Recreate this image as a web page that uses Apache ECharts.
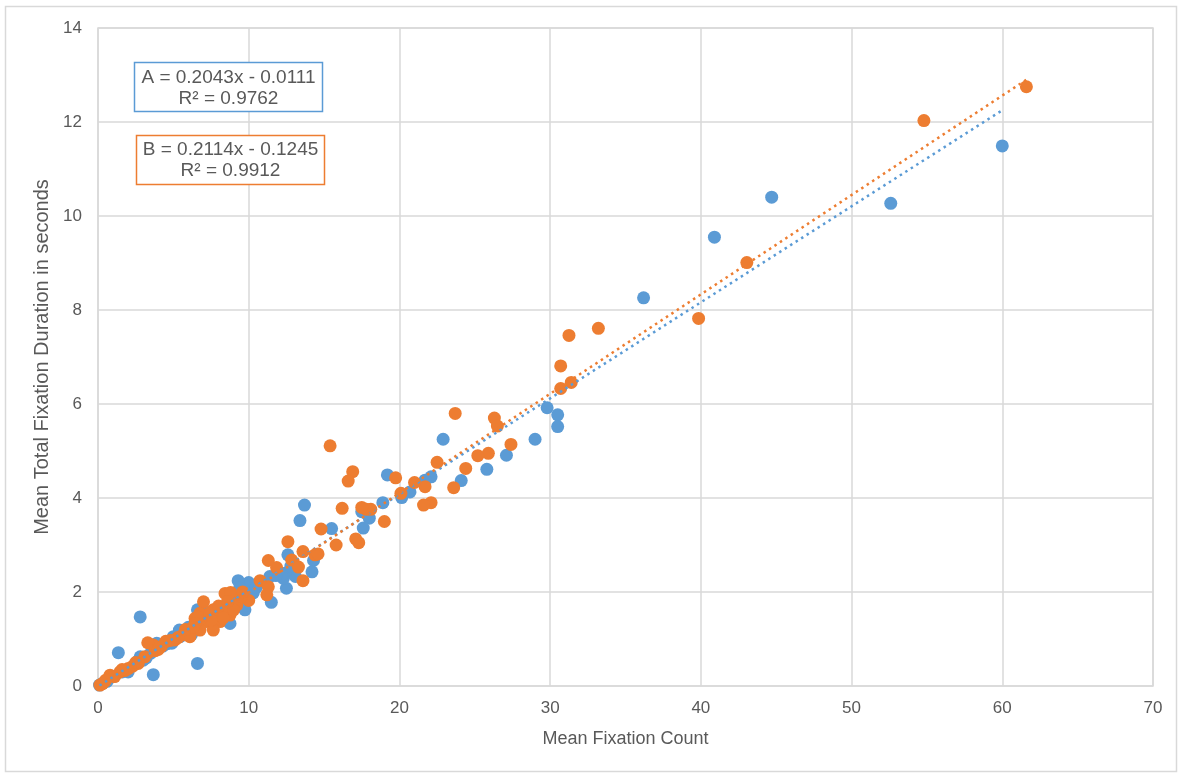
<!DOCTYPE html>
<html>
<head>
<meta charset="utf-8">
<script src="https://cdn.jsdelivr.net/npm/echarts@6/dist/echarts.min.js"></script>
<style>
html,body{margin:0;padding:0;background:#fff;}
#chart{width:1182px;height:775px;}
</style>
</head>
<body>
<div id="chart"></div>
<script>
// ---- Data ----
const seriesNames = ['A', 'B'];
const pointsA = [
  [60.0,11.49],[52.6,10.27],[44.7,10.40],[40.9,9.55],[36.2,8.26],[29.8,5.92],[30.5,5.77],[30.5,5.52],
  [29.0,5.25],[27.1,4.91],[25.8,4.61],[24.1,4.37],[22.9,5.25],[22.1,4.45],[21.7,4.38],[20.7,4.13],
  [20.15,4.01],[19.2,4.49],[18.9,3.90],[18.0,3.57],[17.8,3.67],[17.5,3.71],[17.6,3.36],[15.5,3.35],
  [13.7,3.85],[13.4,3.52],[14.3,2.67],[14.2,2.43],[13.1,2.33],[12.6,2.79],[12.4,2.40],[12.5,2.08],
  [12.3,2.29],[11.5,1.78],[11.4,2.33],[10.0,2.20],[9.3,2.24],[9.4,2.08],[9.64,1.67],[9.75,1.62],
  [8.76,1.33],[7.65,1.30],[6.9,1.62],[6.6,1.62],[5.9,1.19],[5.44,1.05],[5.4,1.19],[6.2,1.09],[5.55,1.12],
  [4.9,0.91],[3.9,0.91],[2.8,1.47],[1.35,0.71],[3.67,0.24],[6.6,0.48],[2.0,0.30],[1.6,0.30],[2.8,0.62],
  [0.33,0.06],[8.2,1.62],[7.2,1.48],[4.3,0.85],[3.5,0.70],[2.6,0.52],[1.0,0.20],[0.6,0.10],[0.1,0.02],
  [10.3,1.98],[9.0,1.85],[8.5,1.72],[7.8,1.55],
  [5.0,1.05],[6.0,1.25],[7.0,1.40],[4.6,0.90],[3.2,0.60],[3.0,0.55],[8.0,1.45],[10.5,2.10],[11.8,2.35],[12.8,2.55]
];
const pointsB = [
  [61.6,12.75],[54.8,12.03],[43.05,9.01],[39.85,7.82],[33.2,7.61],[31.25,7.46],[30.7,6.81],[30.7,6.33],
  [31.4,6.46],[27.4,5.14],[26.3,5.70],[26.5,5.53],[25.9,4.95],[25.2,4.90],[24.4,4.63],[23.7,5.80],
  [23.6,4.22],[22.5,4.76],[22.1,3.90],[21.6,3.85],[21.7,4.24],[21.0,4.33],[20.1,4.10],[19.75,4.43],
  [19.0,3.50],[18.1,3.76],[17.8,3.76],[17.5,3.80],[16.2,3.78],[16.9,4.56],[16.6,4.36],[15.4,5.11],
  [14.8,3.34],[15.8,3.00],[17.1,3.13],[17.3,3.05],[12.6,3.07],[13.6,2.86],[14.4,2.79],[14.6,2.81],
  [12.85,2.68],[13.3,2.53],[13.6,2.24],[11.3,2.67],[11.85,2.52],[10.75,2.24],[11.3,2.11],[11.2,1.94],
  [10.0,1.82],[8.43,1.97],[8.8,1.99],[7.0,1.79],[9.2,1.72],[8.76,1.51],[8.1,1.37],[7.65,1.62],
  [7.2,1.37],[6.77,1.55],[6.44,1.44],[6.77,1.19],[7.65,1.19],[6.1,1.05],[5.66,1.09],[5.1,0.98],
  [4.2,0.84],[3.67,0.87],[3.3,0.92],[3.1,0.62],[2.67,0.48],[2.0,0.37],[1.46,0.30],[0.8,0.23],
  [0.13,0.02],[6.66,1.47],[6.44,1.33],[8.5,1.55],[7.9,1.50],[8.3,1.45],[4.5,0.95],[3.8,0.75],
  [2.3,0.42],[1.1,0.20],[0.5,0.12],[0.3,0.05],[1.8,0.33],[5.3,1.03],[9.0,1.62],
  [5.8,1.20],[6.3,1.25],[7.4,1.55],[8.0,1.70],[8.6,1.80],[9.5,1.90],[4.8,0.97],[4.0,0.78],[2.5,0.50],
  [1.6,0.35],[7.5,1.40],[9.6,2.00]
];
// trend line endpoints as drawn in the picture
const trendA = [[0.1,0.01],[60.0,12.25]];
const trendB = [[0.6,0.0],[61.6,12.90]];
const equationA = 'A = 0.2043x - 0.0111\nR² = 0.9762';
const equationB = 'B = 0.2114x - 0.1245\nR² = 0.9912';
const xTitle = 'Mean Fixation Count';
const yTitle = 'Mean Total Fixation Duration in seconds';

const colA = '#5B9BD5', colB = '#ED7D31';
const FONT = '"Liberation Sans", Arial, sans-serif';
const TXT = '#595959';

const chart = echarts.init(document.getElementById('chart'), null, {renderer:'canvas'});
chart.setOption({
  animation:false,
  backgroundColor:'#fff',
  textStyle:{fontFamily:FONT},
  grid:{left:98, top:28, right:29, bottom:89, show:true, borderColor:'#d9d9d9', borderWidth:1.5},
  xAxis:{
    type:'value', min:0, max:70, interval:10,
    name:xTitle, nameLocation:'middle', nameGap:44,
    nameTextStyle:{color:TXT, fontSize:18, fontFamily:FONT},
    axisLine:{show:false}, axisTick:{show:false},
    axisLabel:{color:TXT, fontSize:17, margin:14, fontFamily:FONT},
    splitLine:{lineStyle:{color:'#d9d9d9', width:1.5}}
  },
  yAxis:{
    type:'value', min:0, max:14, interval:2,
    name:yTitle, nameLocation:'middle', nameGap:44,
    nameTextStyle:{color:TXT, fontSize:20, fontFamily:FONT},
    axisLine:{show:false}, axisTick:{show:false},
    axisLabel:{color:TXT, fontSize:17, margin:16, fontFamily:FONT},
    splitLine:{lineStyle:{color:'#d9d9d9', width:1.5}}
  },
  series:[
    {name:seriesNames[0], type:'scatter', data:pointsA, symbolSize:13, itemStyle:{color:colA, opacity:1}, z:2},
    {name:seriesNames[1], type:'scatter', data:pointsB, symbolSize:13, itemStyle:{color:colB, opacity:1}, z:3},
    {name:'trendA', type:'line', data:trendA, symbol:'none', z:4,
      lineStyle:{color:colA, width:2.5, type:[2.5,4]}},
    {name:'trendB', type:'line', data:trendB, symbol:'none', z:4,
      lineStyle:{color:colB, width:2.5, type:[2.5,4]}}
  ],
  graphic:[
    {type:'rect', shape:{x:5.5, y:6.5, width:1171, height:765}, style:{fill:'none', stroke:'#d9d9d9', lineWidth:1.5}, z:-10, silent:true},
    {type:'rect', shape:{x:134.5, y:62.5, width:188, height:49}, style:{fill:'#fff', stroke:colA, lineWidth:1.5}, z:100},
    {type:'text', x:228.5, y:88, style:{text:equationA, fill:TXT, font:'19px '+FONT, textAlign:'center', textVerticalAlign:'middle', lineHeight:21}, z:101},
    {type:'rect', shape:{x:136.5, y:135.5, width:188, height:49}, style:{fill:'#fff', stroke:colB, lineWidth:1.5}, z:100},
    {type:'text', x:230.5, y:160, style:{text:equationB, fill:TXT, font:'19px '+FONT, textAlign:'center', textVerticalAlign:'middle', lineHeight:21}, z:101}
  ]
});
</script>
</body>
</html>
